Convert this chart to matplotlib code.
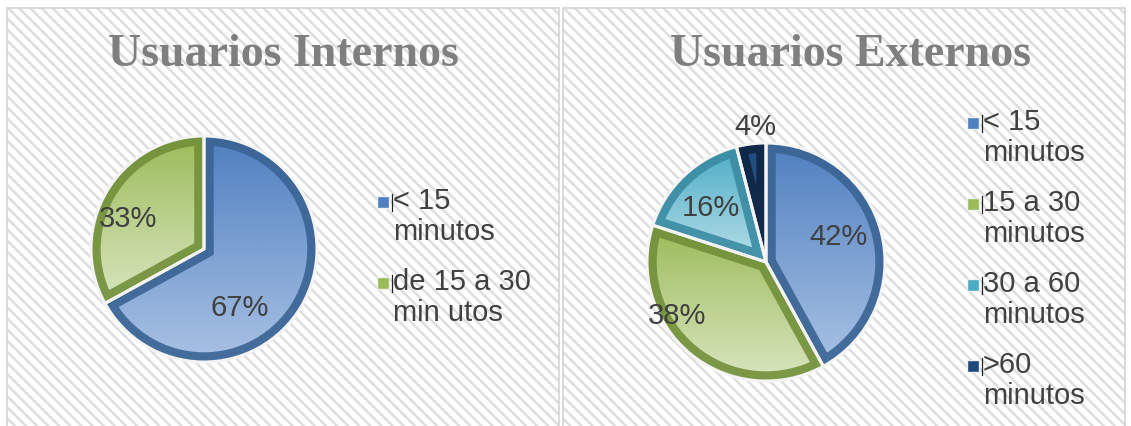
import numpy as np
import matplotlib
matplotlib.use("Agg")
import matplotlib.pyplot as plt
from matplotlib.patches import Rectangle, PathPatch
from matplotlib.colors import LinearSegmentedColormap

# data
titles = ["Usuarios Internos", "Usuarios Externos"]
int_labels = ["< 15\nminutos", "de 15 a 30\nmin utos"]
int_values = [67, 33]
ext_labels = ["< 15\nminutos", "15 a 30\nminutos", "30 a 60\nminutos", ">60\nminutos"]
ext_values = [42, 38, 16, 4]

# (dark top, light bottom, rim)
blue = ("#4F7FC0", "#A9C2E4", "#3A6494")
green = ("#9BBB59", "#D9E6C0", "#72903A")
cyan = ("#4BACC6", "#B7DEE8", "#3A8CA3")
navy = ("#1F497D", "#3C6BA5", "#0E2541")

W, H = 1131, 427
plt.rcParams["hatch.linewidth"] = 1.8
fig = plt.figure(figsize=(W / 100, H / 100), dpi=100)
ax = fig.add_axes([0, 0, 1, 1])


def Y(y):
    return H - y


# panel backgrounds
for x0, x1 in [(7, 559), (563, 1125)]:
    ax.add_patch(Rectangle((x0, 0), x1 - x0, Y(9), facecolor="white",
                           edgecolor="#dedede", hatch="\\\\\\", lw=0, zorder=0))
    ax.add_patch(Rectangle((x0, -5), x1 - x0, Y(9) + 5, facecolor="none",
                           edgecolor="#d4d4d4", lw=1.2, zorder=0.5))


def draw_pie(values, colors, center, radius, explode, pct_pos):
    wedges, _ = ax.pie(values, colors=[c[0] for c in colors], startangle=90,
                       counterclock=False, center=center, radius=radius,
                       explode=explode,
                       wedgeprops=dict(edgecolor="white", linewidth=1.5))
    grad = np.linspace(0, 1, 256).reshape(-1, 1)
    for w, c in zip(wedges, colors):
        ext = w.get_path().get_extents()
        cmap = LinearSegmentedColormap.from_list("g", [c[1], c[0]])
        im = ax.imshow(grad, cmap=cmap, origin="lower", aspect="auto",
                       extent=(ext.x0, ext.x1, ext.y0, ext.y1), zorder=2)
        im.set_clip_path(w)
        rim = PathPatch(w.get_path(), facecolor="none", edgecolor=c[2],
                        lw=14, zorder=3, alpha=0.9, joinstyle="miter")
        rim.set_clip_path(w)
        ax.add_patch(rim)
        ax.add_patch(PathPatch(w.get_path(), facecolor="none",
                               edgecolor="#f4f4f4", lw=2.2, zorder=4))
    for v, (px, py) in zip(values, pct_pos):
        ax.text(px, Y(py), f"{v}%", fontsize=21, color="#404040",
                ha="center", va="center", family="Liberation Sans", zorder=5)


def draw_legend(labels, colors, x, y0, step):
    for i, (lab, c) in enumerate(zip(labels, colors)):
        y = y0 + i * step
        ax.add_patch(Rectangle((x - 1, Y(y) - 6), 12, 12, facecolor=c[0],
                               edgecolor="#f0f0f0", lw=1.0, zorder=5))
        ax.plot([x + 14, x + 14], [Y(y) - 9, Y(y) + 8], color="#222222",
                lw=0.9, zorder=5)
        ax.text(x + 15, Y(y) + 16, lab, fontsize=21, color="#404040",
                ha="left", va="top", linespacing=1.15,
                family="Liberation Sans", zorder=5)


for t, cx in zip(titles, [283, 850]):
    ax.text(cx, Y(55), t, fontsize=33, fontweight="bold", color="#7f7f7f",
            ha="center", va="center", family="Liberation Serif")

draw_pie(int_values, [blue, green], (204, Y(250)), 113, [0, 0.05],
         [(240, 308), (128, 219)])
draw_legend(int_labels, [blue, green], 378, 203, 81)

draw_pie(ext_values, [blue, green, cyan, navy], (766, Y(263)), 119,
         [0.03, 0.03, 0.05, 0.05],
         [(838, 237), (677, 316), (711, 208), (755, 127)])
draw_legend(ext_labels, [blue, green, cyan, navy], 968, 124, 81)

ax.set_xlim(0, W)
ax.set_ylim(0, H)
ax.axis("off")
fig.savefig("out.png", dpi=100)
